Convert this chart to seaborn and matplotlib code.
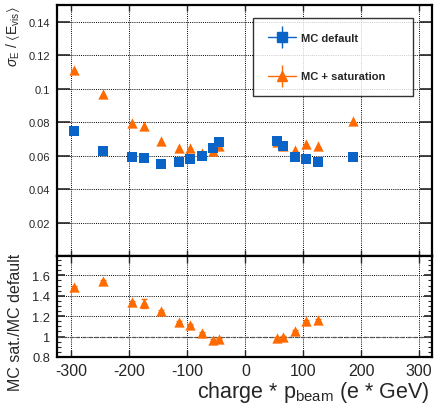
import numpy as np
import pandas as pd
import seaborn as sns
import matplotlib.pyplot as plt
from matplotlib.lines import Line2D
from matplotlib.ticker import MultipleLocator, FormatStrFormatter

# data
charge_p = [-295, -245, -195, -175, -145, -115, -95, -75, -55, -45, 55, 65, 85, 105, 125, 185]
mc_default = [0.075, 0.0628, 0.0594, 0.0584, 0.055, 0.0564, 0.058, 0.0596,
              0.0648, 0.0684, 0.0686, 0.0658, 0.0592, 0.0578, 0.0562, 0.059]
mc_sat = [0.111, 0.097, 0.0793, 0.0777, 0.0685, 0.0646, 0.0648, 0.0618,
          0.0628, 0.066, 0.068, 0.0658, 0.0632, 0.0668, 0.0656, 0.0805]
ratio_x = [-295, -245, -195, -175, -145, -115, -95, -75, -55, -45, 55, 65, 85, 105, 125]
ratio = [1.486, 1.545, 1.34, 1.325, 1.253, 1.146, 1.114, 1.036, 0.968, 0.978,
         0.99, 0.997, 1.058, 1.153, 1.16]
ratio_err = [0.01, 0.01, 0.01, 0.045, 0.01, 0.01, 0.01, 0.01, 0.01, 0.01,
             0.01, 0.01, 0.01, 0.01, 0.01]

blue = '#0a64c8'
orange = '#ff6a00'

df = pd.DataFrame({'x': charge_p, 'default': mc_default, 'sat': mc_sat})
dr = pd.DataFrame({'x': ratio_x, 'ratio': ratio, 'err': ratio_err})

sns.set_style('ticks')
plt.rcParams['font.family'] = ['Liberation Sans', 'DejaVu Sans']
plt.rcParams['mathtext.fontset'] = 'custom'
plt.rcParams['mathtext.rm'] = 'Liberation Sans'
plt.rcParams['mathtext.it'] = 'Liberation Sans:italic'
plt.rcParams['mathtext.fallback'] = 'stixsans'

fig = plt.figure(figsize=(4.36, 4.10), dpi=100)
W, H = 436, 410
ax1 = fig.add_axes([57 / W, (H - 257) / H, 375 / W, 251 / H])
ax2 = fig.add_axes([57 / W, (H - 358) / H, 375 / W, 101 / H])

grid_kw = dict(color='black', linestyle=(0, (1, 1.2)), linewidth=0.7)

# top panel
ax1.grid(True, **grid_kw)
ax1.set_axisbelow(True)
sns.scatterplot(data=df, x='x', y='sat', ax=ax1, marker='^', color=orange,
                s=55, linewidth=0, zorder=3)
sns.scatterplot(data=df, x='x', y='default', ax=ax1, marker='s', color=blue,
                s=55, linewidth=0, zorder=4)
ax1.set_xlim(-325, 322)
ax1.set_ylim(0, 0.15)
ax1.xaxis.set_major_locator(MultipleLocator(100))
ax1.set_yticks([0.02, 0.04, 0.06, 0.08, 0.10, 0.12, 0.14])
ax1.yaxis.set_major_formatter(FormatStrFormatter('%g'))
ax1.tick_params(axis='x', which='major', direction='in', top=True, bottom=True,
                labelbottom=False, length=4, width=1)
ax1.tick_params(axis='y', which='major', direction='in', left=True, right=True,
                labelsize=8, length=9, width=1.2, pad=5)
ax1.set_xlabel('')
ax1.set_ylabel(r'$\sigma_{\rm E}$ / $\langle{\rm E}_{\rm vis}\rangle$',
               fontsize=10, loc='top')
ax1.yaxis.set_label_coords(-0.092, 1.0)

# legend handles drawn as marker + error cross
def cross_handle(color, marker):
    hline = Line2D([], [], color=color, linewidth=1)
    vline = Line2D([], [], color=color, marker='|', markersize=16,
                   markeredgewidth=1, linestyle='')
    mark = Line2D([], [], color=color, marker=marker, markersize=7,
                  linestyle='')
    return (hline, vline, mark)

leg = ax1.legend(handles=[cross_handle(blue, 's'), cross_handle(orange, '^')],
                 labels=['MC default', 'MC + saturation'], loc='upper left',
                 bbox_to_anchor=(0.523, 0.95, 0.426, 0.0), mode='expand',
                 prop={'weight': 'bold', 'size': 8}, frameon=True,
                 fancybox=False, edgecolor='black', handlelength=2.5,
                 labelspacing=2.6, borderpad=1.35, handletextpad=0.5,
                 borderaxespad=0)
leg.get_frame().set_linewidth(1.0)

# bottom panel
ax2.grid(True, **grid_kw)
ax2.set_axisbelow(True)
ax2.axhline(1.0, color='#555555', linestyle=(0, (3, 2)), linewidth=0.9, zorder=2)
ax2.errorbar(dr['x'], dr['ratio'], yerr=dr['err'], fmt='none', ecolor=orange,
             elinewidth=1, capsize=2.5, zorder=3)
sns.scatterplot(data=dr, x='x', y='ratio', ax=ax2, marker='^', color=orange,
                s=55, linewidth=0, zorder=4)
ax2.set_xlim(-325, 322)
ax2.set_ylim(0.8, 1.79)
ax2.xaxis.set_major_locator(MultipleLocator(100))
ax2.xaxis.set_major_formatter(FormatStrFormatter('%g'))
ax2.set_yticks([0.8, 1.0, 1.2, 1.4, 1.6])
ax2.yaxis.set_major_formatter(FormatStrFormatter('%g'))
ax2.yaxis.set_minor_locator(MultipleLocator(0.05))
ax2.tick_params(axis='x', which='major', direction='in', top=True, bottom=True,
                labelsize=11.5, length=5, width=1, pad=4)
ax2.tick_params(axis='y', which='major', direction='in', left=True, right=True,
                labelsize=9.3, length=6, width=1.2, pad=5)
ax2.tick_params(axis='y', which='minor', direction='in', left=True, right=True,
                length=3, width=0.8)
ax2.set_xlabel(r'charge * p$_{\rm beam}$ (e * GeV)', fontsize=15.5, loc='right')
ax2.xaxis.set_label_coords(0.995, -0.22)
ax2.set_ylabel('MC sat./MC default', fontsize=11.5, loc='top')
ax2.yaxis.set_label_coords(-0.09, 1.03)

for ax in (ax1, ax2):
    for sp in ax.spines.values():
        sp.set_visible(True)
        sp.set_linewidth(1.6)
        sp.set_color('black')

fig.savefig('out.png', dpi=100)
